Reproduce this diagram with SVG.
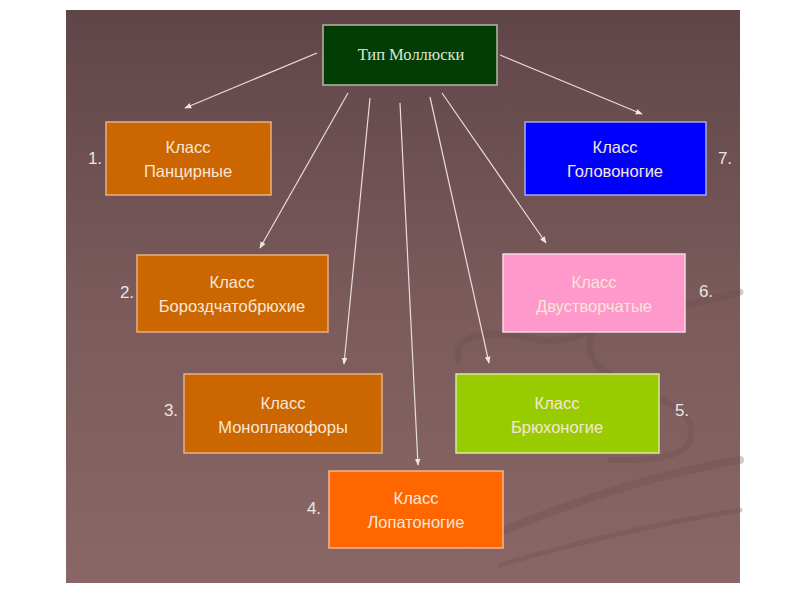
<svg xmlns="http://www.w3.org/2000/svg" width="800" height="600" viewBox="0 0 800 600">
<defs>
<linearGradient id="bg" x1="0" y1="0" x2="0" y2="1">
<stop offset="0" stop-color="#604548"/>
<stop offset="0.5" stop-color="#7a5a5b"/>
<stop offset="1" stop-color="#8a6766"/>
</linearGradient>
<marker id="ah" viewBox="0 0 10 10" refX="9" refY="5" markerWidth="7" markerHeight="7" orient="auto" markerUnits="userSpaceOnUse">
<path d="M0,1 L10,5 L0,9 z" fill="#f0e4e4"/>
</marker>
<style>
.box{stroke-width:1.5}
.t{font-family:"Liberation Sans",Arial,sans-serif;font-size:16.5px;fill:#f7e6d8;text-anchor:middle}
.n{font-family:"Liberation Sans",Arial,sans-serif;font-size:17px;fill:#eee4e4;text-anchor:middle}
.c{fill:none;stroke:#eadcdc;stroke-width:1.2;marker-end:url(#ah)}
.sw{fill:none;stroke:#6a4b4d;stroke-linecap:round;opacity:0.3}
</style>
</defs>
<rect x="0" y="0" width="800" height="600" fill="#ffffff"/>
<rect x="66" y="10" width="674" height="573" fill="url(#bg)"/>
<g id="swirls">
<path class="sw" stroke-width="7" d="M458,360 C452,330 500,330 540,340 C580,345 600,320 630,315 C680,305 720,300 740,292"/>
<path class="sw" stroke-width="6" d="M605,320 C580,340 585,365 620,380 C660,400 700,410 690,440 C680,462 640,460 610,460"/>
<path class="sw" stroke-width="8" d="M470,545 C560,505 650,475 740,460"/>
<path class="sw" stroke-width="5" d="M500,565 C600,535 680,520 740,510"/>
</g>
<g id="connectors">
<line class="c" x1="317" y1="53" x2="185" y2="108"/>
<line class="c" x1="500" y1="55" x2="642" y2="114"/>
<line class="c" x1="348" y1="93" x2="260" y2="248"/>
<line class="c" x1="370" y1="98" x2="344" y2="364"/>
<line class="c" x1="400" y1="103" x2="418" y2="465"/>
<line class="c" x1="430" y1="97" x2="489" y2="363"/>
<line class="c" x1="442" y1="93" x2="546" y2="243"/>
</g>
<g id="root">
<rect class="box" x="323" y="25" width="174" height="60" fill="#013d05" stroke="#b8b8a4" stroke-width="2"/>
<text x="411" y="60" font-family="'Liberation Serif','Times New Roman',serif" font-size="16.5" fill="#dfe6d0" text-anchor="middle">Тип Моллюски</text>
</g>
<g id="n1">
<rect class="box" x="106" y="122" width="165" height="73" fill="#cc6600" stroke="#e8b080"/>
<text class="t" x="188" y="153">Класс</text>
<text class="t" x="188" y="177">Панцирные</text>
<text class="n" x="95" y="164">1.</text>
</g>
<g id="n2">
<rect class="box" x="137" y="255" width="191" height="77" fill="#cc6600" stroke="#e8b080"/>
<text class="t" x="232" y="288">Класс</text>
<text class="t" x="232" y="312">Бороздчатобрюхие</text>
<text class="n" x="127" y="298">2.</text>
</g>
<g id="n3">
<rect class="box" x="184" y="374" width="198" height="79" fill="#cc6600" stroke="#e8b080"/>
<text class="t" x="283" y="409">Класс</text>
<text class="t" x="283" y="433">Моноплакофоры</text>
<text class="n" x="171" y="416">3.</text>
</g>
<g id="n4">
<rect class="box" x="329" y="471" width="174" height="77" fill="#ff6600" stroke="#f5b888"/>
<text class="t" x="416" y="504">Класс</text>
<text class="t" x="416" y="528">Лопатоногие</text>
<text class="n" x="314" y="514">4.</text>
</g>
<g id="n5">
<rect class="box" x="456" y="374" width="203" height="79" fill="#99cc00" stroke="#d8e8a0"/>
<text class="t" x="557" y="409">Класс</text>
<text class="t" x="557" y="433">Брюхоногие</text>
<text class="n" x="682" y="416">5.</text>
</g>
<g id="n6">
<rect class="box" x="503" y="254" width="182" height="78" fill="#ff99cc" stroke="#f8d8e6"/>
<text class="t" x="594" y="288">Класс</text>
<text class="t" x="594" y="312">Двустворчатые</text>
<text class="n" x="706" y="297">6.</text>
</g>
<g id="n7">
<rect class="box" x="525" y="122" width="181" height="73" fill="#0000ff" stroke="#a8a8e8"/>
<text class="t" x="615" y="153">Класс</text>
<text class="t" x="615" y="177">Головоногие</text>
<text class="n" x="725" y="164">7.</text>
</g>
</svg>
